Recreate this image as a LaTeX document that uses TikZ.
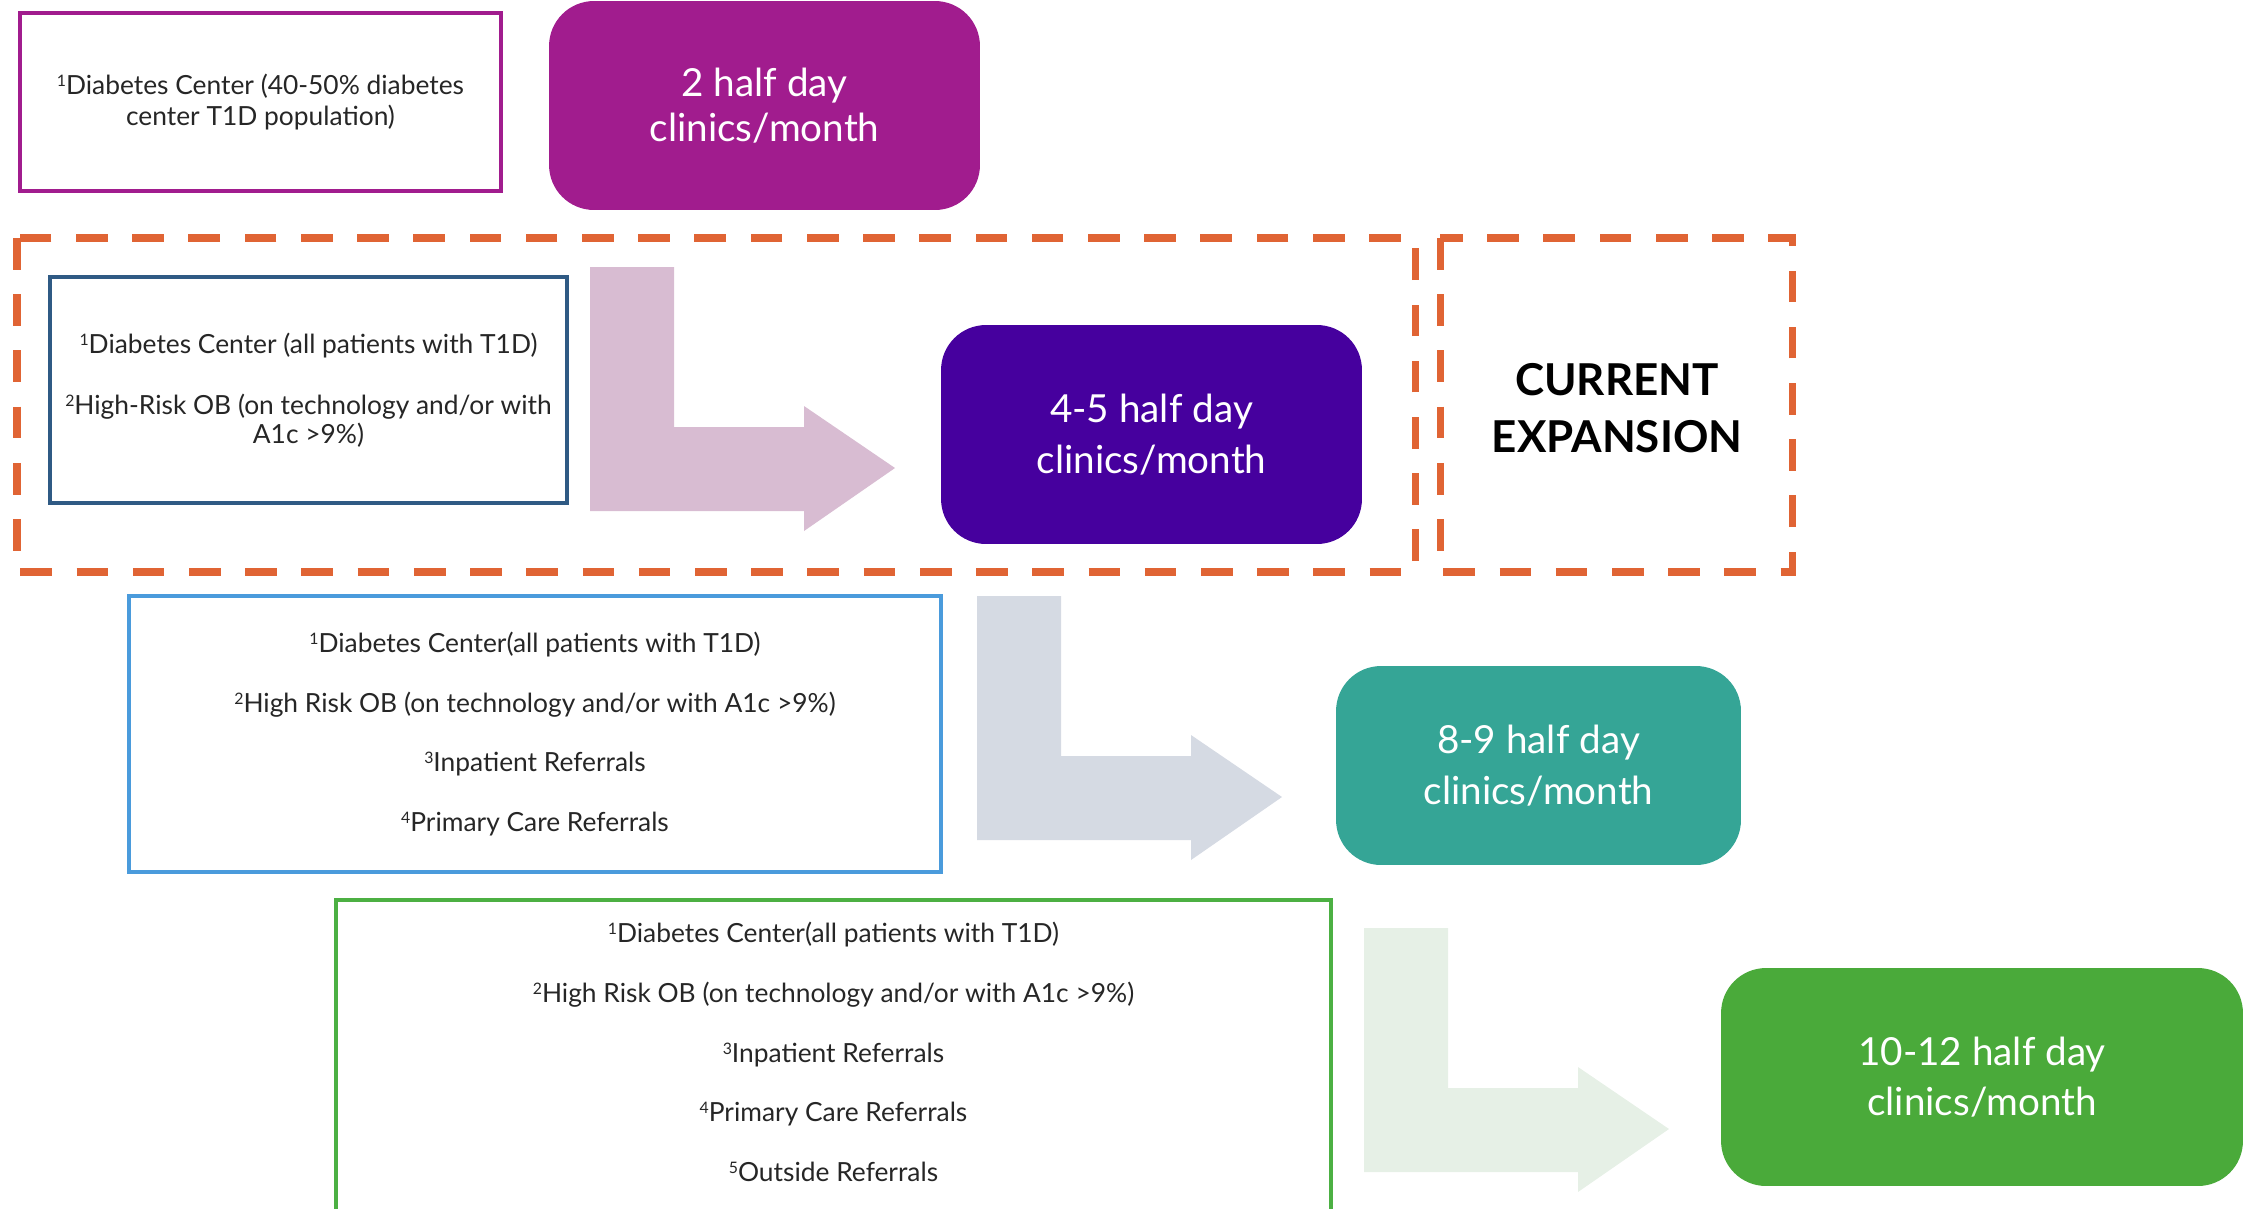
\documentclass[tikz,border=0pt]{standalone}
\usepackage{fontspec}
\setmainfont{Lato}
\definecolor{plum}{HTML}{A11C8E}
\definecolor{indigo}{HTML}{46009E}
\definecolor{rust}{HTML}{E06434}
\definecolor{navyline}{HTML}{2F5A84}
\definecolor{skyline}{HTML}{4A9BDC}
\definecolor{teal}{HTML}{35A596}
\definecolor{leaf}{HTML}{4AAA3A}
\definecolor{leafline}{HTML}{4CB043}
\definecolor{arrowpink}{HTML}{D8BCD2}
\definecolor{arrowgray}{HTML}{D5DAE3}
\definecolor{arrowgreen}{HTML}{E6F0E6}
\definecolor{ink}{HTML}{262626}
\newcommand{\refno}[1]{\raisebox{0.6ex}{\fontsize{9}{9}\selectfont #1}}
\begin{document}
\begin{tikzpicture}[x=0.02cm, y=-0.02cm,
    srcbox/.style={draw, line width=2pt, fill=white, align=center, text=ink, inner sep=0pt},
    clinic/.style={rounded corners=0.9cm, align=center, text=white, inner sep=0pt,
      font=\fontsize{22}{28.6}\selectfont},
    expand/.style={draw=rust, line width=4pt, dash pattern=on 18pt off 14pt}]
      \useasboundingbox (0,0) rectangle (2252,1208);

      % L-shaped block arrows
      \foreach \ax/\ay/\col in {590/267/arrowpink, 977/596/arrowgray, 1364/928/arrowgreen}
        \fill[\col] (\ax,\ay) -- ++(84,0) -- ++(0,160) -- ++(130,0) -- ++(0,-21)
          -- ++(91,62) -- ++(-91,63) -- ++(0,-20) -- ++(-214,0) -- cycle;

      % dashed frames
      \draw[expand] (17,238) rectangle (1415,572);
      \draw[expand] (1440,238) rectangle (1792,572);

      \node[srcbox, draw=plum, minimum width=9.62cm, minimum height=3.56cm,
        font=\fontsize{15}{18}\selectfont] (src1) at (260.5,102)
        {\refno{1}Diabetes Center (40-50\% diabetes\\center T1D population)};
      \node[clinic, fill=plum, minimum width=8.62cm, minimum height=4.18cm,
        font=\fontsize{22}{26}\selectfont] (two) at (764.5,105.5) {2 half day\\clinics/month};

      \node[srcbox, draw=navyline, minimum width=10.34cm, minimum height=4.52cm,
        font=\fontsize{15}{16.5}\selectfont] (src2) at (308.5,390)
        {\refno{1}Diabetes Center (all patients with T1D)\\[18.5pt]
         \refno{2}High-Risk OB (on technology and/or with\\A1c >9\%)};
      \node[clinic, fill=indigo, minimum width=8.42cm, minimum height=4.38cm] (four) at (1151.5,434.5)
        {4-5 half day\\clinics/month};
      \node[font=\fontsize{25}{32}\selectfont\bfseries, align=center] (cur) at (1617,408)
        {CURRENT\\EXPANSION};

      \node[srcbox, draw=skyline, minimum width=16.24cm, minimum height=5.52cm,
        font=\fontsize{15}{34}\selectfont] (src3) at (535,734)
        {\refno{1}Diabetes Center(all patients with T1D)\\
         \refno{2}High Risk OB (on technology and/or with A1c >9\%)\\
         \refno{3}Inpatient Referrals\\
         \refno{4}Primary Care Referrals};
      \node[clinic, fill=teal, minimum width=8.1cm, minimum height=3.98cm] (eight) at (1538.5,765.5)
        {8-9 half day\\clinics/month};

      % last list runs off the bottom edge
      \draw[leafline, line width=2pt, fill=white] (336,900) rectangle (1331,1216);
      \node[align=center, text=ink, font=\fontsize{15}{34}\selectfont] (src4) at (833.5,1052)
        {\refno{1}Diabetes Center(all patients with T1D)\\
         \refno{2}High Risk OB (on technology and/or with A1c >9\%)\\
         \refno{3}Inpatient Referrals\\
         \refno{4}Primary Care Referrals\\
         \refno{5}Outside Referrals};
      \node[clinic, fill=leaf, minimum width=10.44cm, minimum height=4.36cm] (ten) at (1982,1077)
        {10-12 half day\\clinics/month};
    \end{tikzpicture}
\end{document}
